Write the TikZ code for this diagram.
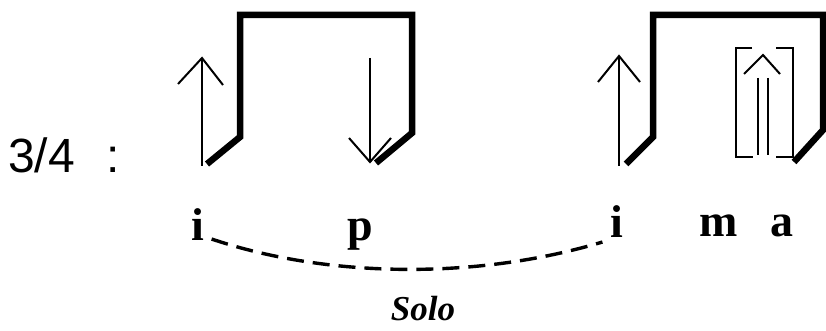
\documentclass[tikz,border=0pt]{standalone}
\usepackage{fontspec}
\setmainfont{Liberation Serif}
\newfontfamily\sansfam{Liberation Sans}
\begin{document}
\begin{tikzpicture}[x=1pt,y=1pt,
  beam/.style={line width=6.5pt, line join=miter, line cap=butt},
  thin/.style={line width=2pt, line cap=butt},
  chev/.style={line width=2pt, line join=miter},
  finger/.style={inner sep=0pt, anchor=base, font=\fontsize{46}{52}\selectfont\bfseries},
  numlbl/.style={inner sep=0pt, anchor=base, font=\fontsize{48}{56}\selectfont\sansfam},
  sololbl/.style={inner sep=0pt, anchor=base, font=\fontsize{35}{40}\selectfont\bfseries\itshape},
  tie/.style={line width=3.4pt, dash pattern=on 17pt off 9pt}]
\useasboundingbox (0,0) rectangle (826,-331);
% labels
\node[numlbl, anchor=base west] (frac) at (8,-172) {3/4};
\node[numlbl] (colon) at (113,-172) {:};
\node[finger] (i1) at (198,-240) {i};
\node[finger] (p) at (360,-240) {p};
\node[finger] (i2) at (617,-237) {i};
\node[finger] (m) at (719,-236) {m};
\node[finger] (a) at (782,-236) {a};
\node[sololbl] (solo) at (423,-320) {Solo};
% left group beam
\draw[beam] (207,-164) -- (240,-137) -- (240,-15) -- (412,-15) -- (412,-133) -- (376,-163);
% up arrow
\draw[thin] (202,-166) -- (202,-59);
\draw[chev] (178,-84) -- (202,-58) -- (223,-85);
% down arrow
\draw[thin] (370,-58) -- (370,-161);
\draw[chev] (349,-138) -- (370,-162) -- (391,-138);
% right group beam
\draw[beam] (626,-164) -- (653,-137) -- (653,-15) -- (823,-15) -- (823,-130) -- (794,-162);
% up arrow
\draw[thin] (619,-166) -- (619,-57);
\draw[chev] (598,-82) -- (619,-56) -- (640,-82);
% bracket
\draw[thin] (752,-48) -- (736,-48) -- (736,-157) -- (753,-157);
\draw[thin] (776,-48) -- (793,-48) -- (793,-157) -- (776,-157);
% double arrow
\draw[thin] (758,-78) -- (758,-155);
\draw[thin] (768,-78) -- (768,-155);
\draw[chev] (744,-74) -- (763,-55) -- (780,-74);
% tie
\draw[tie] ([shift={(7pt,1pt)}]i1.base east) .. controls (330,-279) and (480,-279) .. ([shift={(-8pt,-5pt)}]i2.base west);
\end{tikzpicture}
\end{document}
